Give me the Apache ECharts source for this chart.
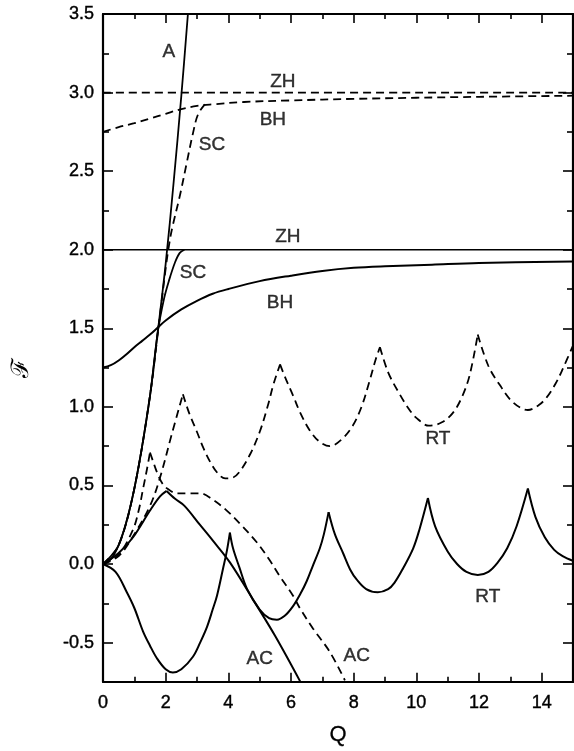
<!DOCTYPE html>
<html>
<head>
<meta charset="utf-8">
<script src="https://cdn.jsdelivr.net/npm/echarts@6/dist/echarts.min.js"></script>
<style>
html,body{margin:0;padding:0;background:#fff;}
#chart{width:574px;height:751px;}
</style>
</head>
<body>
<div id="chart"></div>
<script>
// ---- tick values ----
const xTicks = [0, 2, 4, 6, 8, 10, 12, 14];
const xMinor = [1, 3, 5, 7, 9, 11, 13];
const yTicks = [-0.5, 0, 0.5, 1, 1.5, 2, 2.5, 3, 3.5];
const yMinor = [-0.25, 0.25, 0.75, 1.25, 1.75, 2.25, 2.75, 3.25];

// ---- curves (Q, F) ----
const curveA = [[0,0],[0.25,0.03],[0.5,0.12],[0.75,0.27],[1.0,0.48],[1.25,0.75],[1.5,1.07],[1.75,1.48],[2.0,1.91],[2.25,2.42],[2.5,2.98],[2.71,3.5]];
const zhSolid = [[0,2.0],[15,2.0]];
const zhDashed = [[0,3.0],[15,3.0]];
const scSolid = [[0,0],[0.5,0.12],[1.0,0.48],[1.5,1.07],[1.75,1.48],[1.95,1.69],[2.1,1.8],[2.3,1.92],[2.45,1.98],[2.6,2.0]];
const scDashed = [[0,0],[0.5,0.12],[1.0,0.48],[1.5,1.07],[1.75,1.47],[2.0,1.88],[2.1,2.02],[2.2,2.13],[2.46,2.35],[2.68,2.56],[2.87,2.74],[3.03,2.86],[3.25,2.925]];
const bhSolid = [[0,1.25],[0.25,1.265],[0.5,1.295],[0.75,1.335],[1.0,1.38],[1.25,1.42],[1.5,1.46],[1.75,1.505],[2.0,1.55],[2.5,1.62],[3.0,1.675],[3.5,1.72],[4.0,1.75],[5.0,1.8],[6.0,1.835],[7.0,1.865],[8.0,1.885],[9.0,1.895],[10.5,1.905],[12,1.915],[15,1.925]];
const bhDashed = [[0,2.75],[0.5,2.78],[1.0,2.805],[1.5,2.835],[2.0,2.865],[2.5,2.895],[3.0,2.915],[3.5,2.925],[4.5,2.94],[6,2.95],[8,2.96],[10,2.967],[12,2.973],[15,2.98]];
const rtSolid = [[0,0],[0.4,-0.05],[0.76,-0.18],[1.0,-0.28],[1.28,-0.43],[1.5,-0.52],[1.72,-0.6],[2.0,-0.67],[2.23,-0.69],[2.5,-0.67],[2.87,-0.59],[3.1,-0.5],[3.32,-0.4],[3.5,-0.29],[3.64,-0.2],[3.83,-0.03],[3.95,0.08],[4.05,0.2],[4.15,0.1],[4.35,-0.02],[4.6,-0.16],[5.0,-0.29],[5.3,-0.345],[5.55,-0.355],[5.8,-0.33],[6.06,-0.27],[6.3,-0.19],[6.5,-0.11],[6.7,-0.01],[6.92,0.1],[7.05,0.19],[7.2,0.33],[7.4,0.19],[7.66,0.07],[7.9,-0.04],[8.1,-0.1],[8.4,-0.16],[8.77,-0.18],[9.1,-0.16],[9.3,-0.12],[9.57,-0.03],[9.9,0.1],[10.1,0.22],[10.37,0.42],[10.6,0.24],[11.0,0.08],[11.3,0.0],[11.6,-0.05],[11.96,-0.07],[12.3,-0.05],[12.6,0.01],[12.9,0.1],[13.2,0.24],[13.56,0.48],[13.8,0.3],[14.1,0.17],[14.4,0.09],[14.67,0.05],[15,0.02]];
const rtDashed = [[0,0],[0.5,0.05],[1.0,0.19],[1.5,0.37],[1.82,0.55],[2.2,0.83],[2.55,1.08],[2.75,0.96],[3.0,0.84],[3.2,0.74],[3.42,0.65],[3.65,0.58],[3.9,0.545],[4.15,0.55],[4.37,0.59],[4.7,0.7],[5.0,0.84],[5.25,1.0],[5.45,1.15],[5.65,1.27],[5.85,1.17],[6.07,1.07],[6.3,0.96],[6.6,0.85],[6.9,0.78],[7.24,0.75],[7.6,0.79],[7.97,0.88],[8.25,1.0],[8.5,1.16],[8.7,1.3],[8.84,1.38],[9.1,1.22],[9.47,1.08],[9.75,0.99],[10.0,0.93],[10.4,0.88],[10.8,0.9],[11.16,0.96],[11.45,1.06],[11.7,1.2],[11.96,1.46],[12.3,1.26],[12.66,1.14],[13.08,1.03],[13.56,0.98],[13.9,1.01],[14.16,1.06],[14.45,1.15],[14.67,1.24],[15,1.39]];
const acSolid = [[0,0],[0.5,0.07],[0.96,0.17],[1.5,0.34],[1.82,0.43],[2.03,0.465],[2.3,0.415],[2.6,0.37],[3.09,0.25],[3.5,0.15],[4.05,0.01],[4.8,-0.23],[5.5,-0.46],[6.3,-0.75]];
const acDashed = [[0,0],[0.5,0.06],[0.96,0.22],[1.15,0.35],[1.28,0.48],[1.4,0.6],[1.5,0.71],[1.62,0.64],[1.75,0.57],[1.9,0.51],[2.05,0.48],[2.36,0.45],[2.7,0.45],[3.09,0.45],[3.5,0.41],[3.95,0.34],[4.4,0.25],[4.9,0.14],[5.3,0.03],[5.65,-0.08],[6.06,-0.2],[6.28,-0.28],[6.7,-0.41],[7.24,-0.56],[7.72,-0.74]];

// ---- curve labels ----
const labelNames = ['A','ZH','BH','SC','ZH','SC','BH','RT','RT','AC','AC'];
const labelPos = [[2.1,3.26],[5.74,3.07],[5.42,2.83],[3.48,2.67],[5.9,2.08],[2.87,1.855],[5.65,1.665],[10.69,0.794],[12.28,-0.21],[5.0,-0.6],[8.1,-0.585]];

const FONT = "'Liberation Sans', Arial, Helvetica, sans-serif";
const DASH = [8, 5];

function splitAtCusps(pts) {
  const parts = [];
  let cur = [pts[0]];
  for (let i = 1; i < pts.length; i++) {
    cur.push(pts[i]);
    if (i < pts.length - 1 && pts[i][1] > pts[i-1][1] && pts[i][1] > pts[i+1][1]) {
      parts.push(cur);
      cur = [pts[i]];
    }
  }
  parts.push(cur);
  return parts;
}

const series = [];
function addCurve(pts, dashed, width, sharp) {
  const parts = sharp ? splitAtCusps(pts) : [pts];
  parts.forEach(p => {
    series.push({
      type: 'line', data: p, xAxisIndex: 0, yAxisIndex: 0,
      showSymbol: false, symbol: 'none', smooth: 0.35, silent: true,
      clip: true,
      lineStyle: { color: '#000', width: width, type: dashed ? DASH : 'solid' }
    });
  });
}
addCurve(curveA, false, 1.8, false);
addCurve(zhSolid, false, 1.4, false);
addCurve(zhDashed, true, 1.7, false);
addCurve(scSolid, false, 1.8, false);
addCurve(scDashed, true, 1.8, false);
addCurve(bhSolid, false, 2, false);
addCurve(bhDashed, true, 1.8, false);
addCurve(rtSolid, false, 2, true);
addCurve(rtDashed, true, 1.8, true);
addCurve(acSolid, false, 2, true);
addCurve(acDashed, true, 1.8, true);

series.push({
  type: 'scatter', xAxisIndex: 0, yAxisIndex: 0, symbolSize: 0, silent: true,
  data: labelNames.map((n, i) => ({ name: n, value: labelPos[i] })),
  label: {
    show: true, formatter: '{b}', position: [0, 0], align: 'center', verticalAlign: 'middle',
    fontSize: 19, color: '#000', fontFamily: FONT, textBorderColor: '#000', textBorderWidth: 0.4
  }
});

function xAxisDef(pos, ticks, len, isMain, showLine) {
  return {
    type: 'value', position: pos, min: 0, max: 15, gridIndex: 0,
    axisLine: { show: showLine, onZero: false, lineStyle: { color: '#000', width: 2.2 } },
    axisTick: { show: true, inside: true, length: len, customValues: ticks, lineStyle: { color: '#000', width: 1.6 } },
    axisLabel: isMain ? { show: true, customValues: ticks, margin: 12, fontSize: 18, color: '#000', fontFamily: FONT, textBorderColor: '#000', textBorderWidth: 0.4 } : { show: false },
    splitLine: { show: false },
    name: isMain ? 'Q' : '', nameLocation: 'middle', nameGap: 42,
    nameTextStyle: { fontSize: 22, color: '#000', fontFamily: FONT, textBorderColor: '#000', textBorderWidth: 0.3 }
  };
}
function yAxisDef(pos, ticks, len, isMain, showLine) {
  return {
    type: 'value', position: pos, min: -0.75, max: 3.5, gridIndex: 0,
    axisLine: { show: showLine, onZero: false, lineStyle: { color: '#000', width: 2.2 } },
    axisTick: { show: true, inside: true, length: len, customValues: ticks, lineStyle: { color: '#000', width: 1.6 } },
    axisLabel: isMain ? { show: true, customValues: ticks, margin: 9, fontSize: 18, color: '#000', fontFamily: FONT, textBorderColor: '#000', textBorderWidth: 0.4, formatter: v => v.toFixed(1) } : { show: false },
    splitLine: { show: false }
  };
}

const chart = echarts.init(document.getElementById('chart'), null, { renderer: 'canvas' });
chart.setOption({
  animation: false,
  backgroundColor: '#fff',
  grid: { left: 103, right: 1, top: 14, bottom: 67, containLabel: false },
  xAxis: [
    xAxisDef('bottom', xTicks, 9, true, true),
    xAxisDef('top', xTicks, 9, false, true),
    xAxisDef('bottom', xMinor, 5, false, false),
    xAxisDef('top', xMinor, 5, false, false)
  ],
  yAxis: [
    yAxisDef('left', yTicks, 10, true, true),
    yAxisDef('right', yTicks, 10, false, true),
    yAxisDef('left', yMinor, 6, false, false),
    yAxisDef('right', yMinor, 6, false, false)
  ],
  graphic: [{
    type: 'text', x: 21, y: 368, rotation: Math.PI / 2,
    style: { text: '\u2131', fontSize: 24, fill: '#000', align: 'center', verticalAlign: 'middle', font: "24px 'DejaVu Sans'" }
  }],
  series: series
});
</script>
</body>
</html>
